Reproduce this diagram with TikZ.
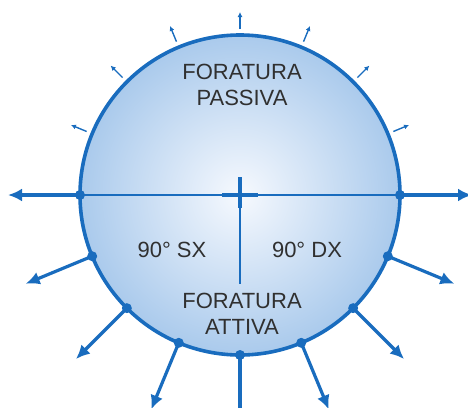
\documentclass[tikz,border=0pt]{standalone}
\usepackage{fontspec}
\setmainfont{Liberation Sans}
\usetikzlibrary{arrows.meta,calc}
\definecolor{lineblue}{RGB}{25,108,190}
\definecolor{innerfill}{RGB}{246,249,254}
\definecolor{outerfill}{RGB}{170,202,236}
\definecolor{txtgray}{RGB}{48,48,48}
\tikzset{
  bigarrow/.style={lineblue, line width=3.2pt, -{Latex[length=14pt,width=13pt]}},
  smallarrow/.style={lineblue, line width=1.4pt, -{Latex[length=5pt,width=5pt]}},
  dotmark/.style={fill=lineblue, draw=none},
  lbl/.style={text=txtgray, font=\fontsize{22}{26}\selectfont, align=center, inner sep=0pt}
}
\begin{document}
\begin{tikzpicture}[x=1pt,y=-1pt]
\useasboundingbox (0,0) rectangle (468,407);
\clip (0,0) rectangle (468,407);
\coordinate (C) at (240,195);
% sphere
\shade[inner color=innerfill, outer color=outerfill] (C) circle[radius=160pt];
% horizontal diameter and vertical line
\draw[lineblue, line width=2pt] ($(C)+(180:160pt)$) -- ($(C)+(0:160pt)$);
\coordinate (vbot) at (240,284);
\draw[lineblue, line width=2pt] (C) -- (vbot);
% centre cross
\coordinate (ctl) at (222,195);
\coordinate (ctr) at (258,195);
\coordinate (ctt) at (240,177);
\coordinate (ctb) at (240,208);
\draw[lineblue, line width=4pt] (ctl) -- (ctr);
\draw[lineblue, line width=4pt] (ctt) -- (ctb);
% outline
\draw[lineblue, line width=3.6pt] (C) circle[radius=160pt];
% small outward arrows on the upper half
\foreach \a in {22.5,45,67.5,90,112.5,135,157.5}{
  \coordinate (s0) at ($(C)+(\a:166pt)$);
  \coordinate (s1) at ($(C)+(\a:183pt)$);
  \draw[smallarrow] (s0) -- (s1);
}
% big arrows on the lower half
\foreach \a in {180,202.5,225,247.5,270,292.5,315,337.5,360}{
  \coordinate (b0) at ($(C)+(\a:160pt)$);
  \coordinate (b1) at ($(C)+(\a:232pt)$);
  \draw[bigarrow] (b0) -- (b1);
  \fill[dotmark] (b0) circle[radius=5pt];
}
% labels
\node[lbl] (passiva) at (242,85) {FORATURA\\PASSIVA};
\node[lbl] (sx) at (172,250) {90° SX};
\node[lbl] (dx) at (307,250) {90° DX};
\node[lbl] (attiva) at (242,314) {FORATURA\\ATTIVA};
\end{tikzpicture}
\end{document}
